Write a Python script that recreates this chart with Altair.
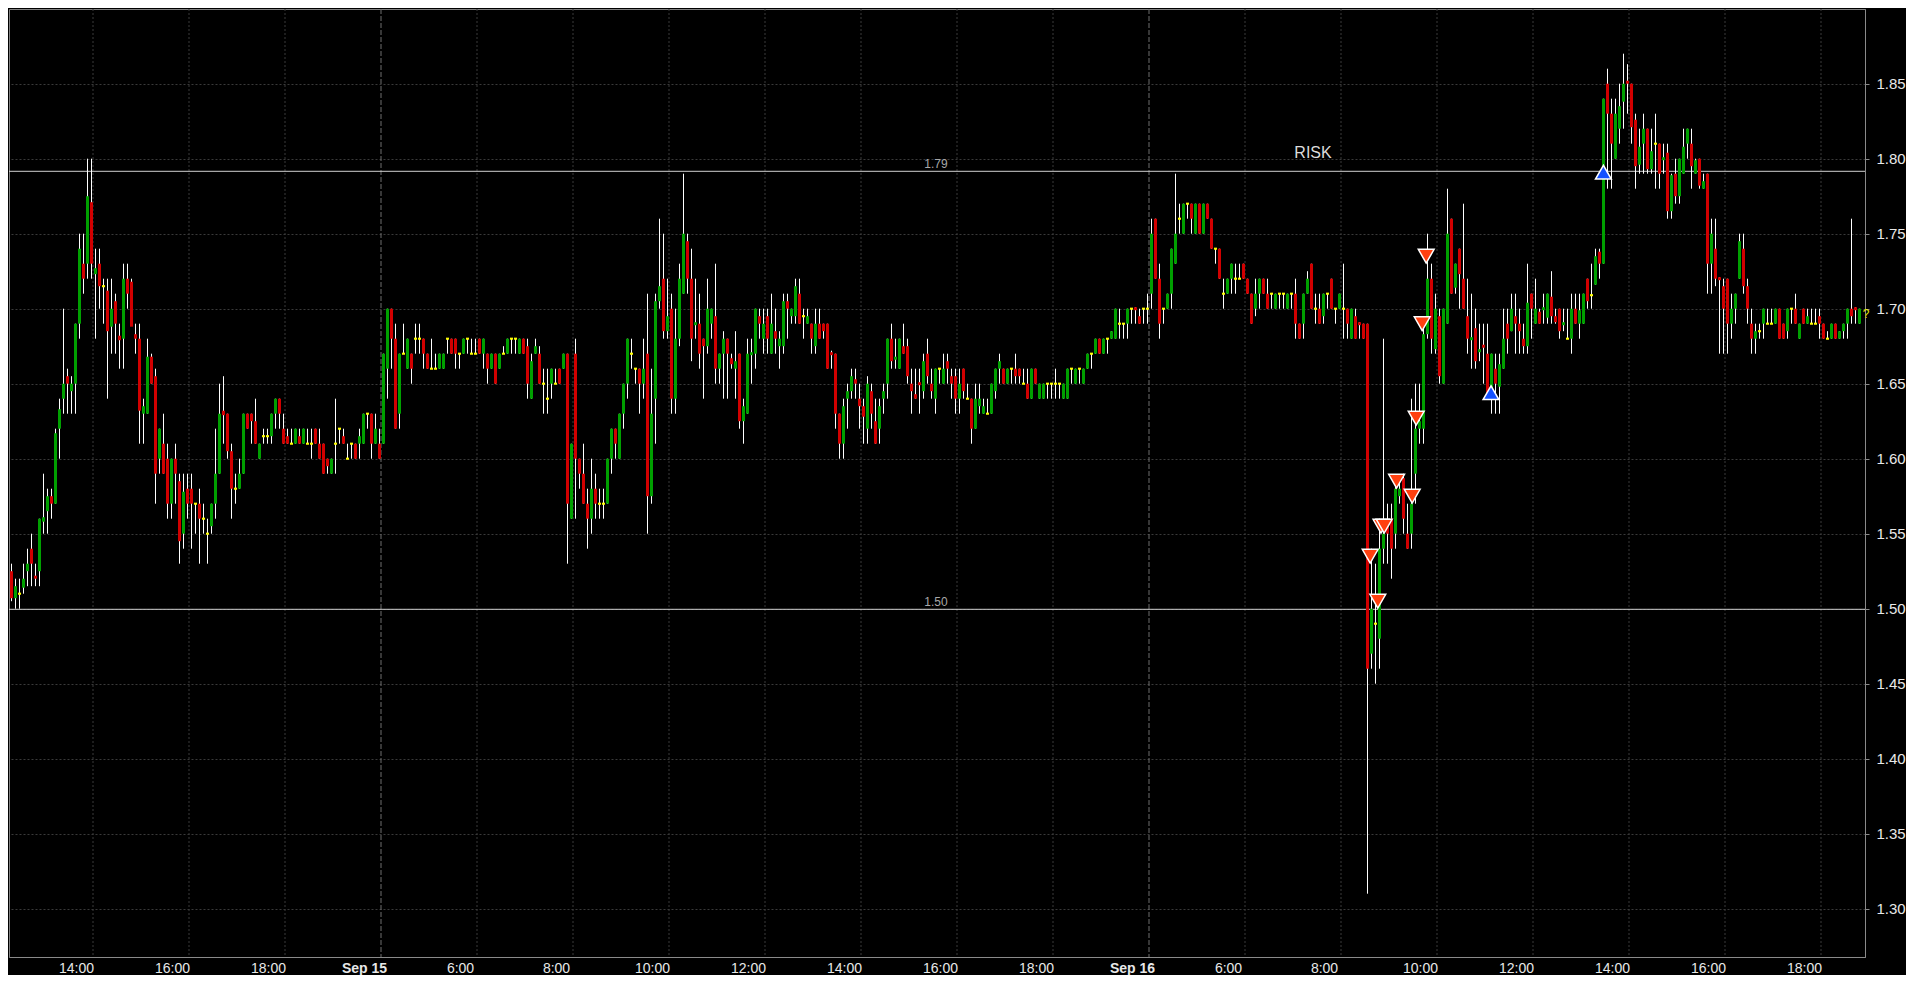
import json
import altair as alt
import pandas as pd

# ---------------- data (5-minute bars) ----------------
# Session 1: Sep 14 afternoon (bars 0-94)
OPEN_1 = [1.535, 1.525, 1.525, 1.507, 1.51, 1.514, 1.525, 1.54, 1.522, 1.525,
          1.558, 1.565, 1.575, 1.57, 1.62, 1.64, 1.655, 1.645, 1.65, 1.69,
          1.73, 1.73, 1.771, 1.723, 1.73, 1.715, 1.712, 1.688, 1.705, 1.682,
          1.68, 1.72, 1.718, 1.683, 1.68, 1.63, 1.63, 1.668, 1.655, 1.60,
          1.61, 1.60, 1.57, 1.60, 1.585, 1.55, 1.58, 1.58, 1.57, 1.57,
          1.56, 1.55, 1.555, 1.57, 1.59, 1.632, 1.63, 1.605, 1.58, 1.58,
          1.59, 1.63, 1.63, 1.625, 1.60, 1.615, 1.615, 1.615, 1.63, 1.64,
          1.62, 1.615, 1.61, 1.61, 1.615, 1.61, 1.61, 1.61, 1.62, 1.61,
          1.61, 1.60, 1.59, 1.61, 1.62, 1.615, 1.60, 1.61, 1.61, 1.61,
          1.61, 1.63, 1.63, 1.61, 1.61]
HIGH_1 = [1.56, 1.53, 1.53, 1.52, 1.52, 1.53, 1.54, 1.55, 1.53, 1.56,
          1.59, 1.58, 1.58, 1.62, 1.64, 1.70, 1.66, 1.655, 1.69, 1.75,
          1.75, 1.80, 1.80, 1.74, 1.74, 1.72, 1.72, 1.72, 1.71, 1.69,
          1.73, 1.73, 1.72, 1.69, 1.69, 1.64, 1.68, 1.67, 1.66, 1.62,
          1.63, 1.61, 1.60, 1.61, 1.59, 1.59, 1.59, 1.59, 1.57, 1.58,
          1.57, 1.56, 1.57, 1.62, 1.65, 1.655, 1.63, 1.61, 1.59, 1.60,
          1.63, 1.63, 1.63, 1.64, 1.61, 1.62, 1.62, 1.63, 1.64, 1.64,
          1.63, 1.62, 1.62, 1.62, 1.62, 1.62, 1.62, 1.62, 1.62, 1.62,
          1.61, 1.60, 1.60, 1.64, 1.62, 1.62, 1.61, 1.61, 1.61, 1.62,
          1.63, 1.63, 1.63, 1.63, 1.62]
LOW_1 = [1.52, 1.505, 1.505, 1.50, 1.50, 1.51, 1.515, 1.515, 1.515, 1.515,
         1.55, 1.55, 1.56, 1.57, 1.60, 1.63, 1.63, 1.63, 1.63, 1.68,
         1.71, 1.72, 1.72, 1.68, 1.70, 1.69, 1.64, 1.67, 1.67, 1.66,
         1.66, 1.70, 1.69, 1.67, 1.61, 1.61, 1.63, 1.65, 1.57, 1.59,
         1.59, 1.56, 1.56, 1.57, 1.53, 1.54, 1.56, 1.54, 1.55, 1.53,
         1.55, 1.53, 1.55, 1.56, 1.59, 1.61, 1.60, 1.56, 1.57, 1.58,
         1.59, 1.62, 1.61, 1.61, 1.60, 1.61, 1.61, 1.61, 1.62, 1.62,
         1.61, 1.61, 1.61, 1.61, 1.61, 1.61, 1.61, 1.60, 1.61, 1.60,
         1.59, 1.59, 1.59, 1.59, 1.61, 1.61, 1.60, 1.60, 1.60, 1.60,
         1.61, 1.62, 1.60, 1.61, 1.60]
CLOSE_1 = [1.53, 1.53, 1.507, 1.515, 1.51, 1.52, 1.53, 1.53, 1.52, 1.56,
           1.561, 1.575, 1.57, 1.617, 1.633, 1.65, 1.65, 1.65, 1.69, 1.74,
           1.72, 1.775, 1.73, 1.727, 1.715, 1.715, 1.685, 1.70, 1.69, 1.679,
           1.72, 1.71, 1.688, 1.68, 1.632, 1.635, 1.668, 1.65, 1.59, 1.62,
           1.59, 1.57, 1.60, 1.59, 1.545, 1.578, 1.57, 1.57, 1.57, 1.56,
           1.56, 1.55, 1.57, 1.59, 1.63, 1.629, 1.605, 1.58, 1.58, 1.59,
           1.63, 1.62, 1.625, 1.61, 1.61, 1.615, 1.615, 1.63, 1.64, 1.63,
           1.61, 1.61, 1.61, 1.62, 1.61, 1.62, 1.61, 1.61, 1.61, 1.60,
           1.59, 1.595, 1.60, 1.61, 1.62, 1.61, 1.60, 1.61, 1.60, 1.615,
           1.63, 1.63, 1.61, 1.62, 1.60]

# Session 2: Sep 15 (bars 95-286)
OPEN_2 = [1.61, 1.66, 1.70, 1.68, 1.63, 1.67, 1.66, 1.67, 1.68, 1.68,
          1.68, 1.67, 1.66, 1.66, 1.66, 1.66, 1.68, 1.68, 1.68, 1.67,
          1.67, 1.68, 1.67, 1.67, 1.68, 1.67, 1.67, 1.66, 1.67, 1.66,
          1.67, 1.67, 1.68, 1.68, 1.67, 1.68, 1.675, 1.64, 1.67, 1.67,
          1.65, 1.64, 1.65, 1.65, 1.66, 1.66, 1.67, 1.56, 1.67, 1.60,
          1.59, 1.57, 1.56, 1.58, 1.57, 1.57, 1.57, 1.60, 1.62, 1.60,
          1.63, 1.65, 1.67, 1.66, 1.66, 1.65, 1.67, 1.575, 1.64, 1.705,
          1.72, 1.685, 1.70, 1.64, 1.68, 1.71, 1.745, 1.72, 1.689, 1.69,
          1.68, 1.675, 1.69, 1.695, 1.66, 1.67, 1.68, 1.667, 1.66, 1.67,
          1.625, 1.63, 1.669, 1.67, 1.695, 1.68, 1.695, 1.67, 1.685, 1.675,
          1.675, 1.705, 1.695, 1.695, 1.71, 1.695, 1.69, 1.69, 1.675, 1.69,
          1.69, 1.69, 1.671, 1.67, 1.63, 1.61, 1.64, 1.645, 1.653, 1.64,
          1.635, 1.62, 1.645, 1.625, 1.62, 1.64, 1.65, 1.68, 1.666, 1.66,
          1.675, 1.675, 1.65, 1.643, 1.651, 1.645, 1.67, 1.65, 1.64, 1.66,
          1.65, 1.665, 1.655, 1.655, 1.64, 1.66, 1.64, 1.64, 1.62, 1.635,
          1.63, 1.63, 1.63, 1.645, 1.66, 1.66, 1.65, 1.66, 1.66, 1.66,
          1.65, 1.65, 1.64, 1.66, 1.64, 1.64, 1.65, 1.65, 1.65, 1.65,
          1.64, 1.64, 1.66, 1.65, 1.66, 1.65, 1.66, 1.67, 1.67, 1.68,
          1.67, 1.68, 1.68, 1.68, 1.69, 1.69, 1.69, 1.70, 1.701, 1.695,
          1.70, 1.70]
HIGH_2 = [1.67, 1.70, 1.70, 1.69, 1.67, 1.69, 1.68, 1.67, 1.69, 1.69,
          1.68, 1.67, 1.68, 1.67, 1.67, 1.67, 1.68, 1.68, 1.68, 1.67,
          1.68, 1.68, 1.68, 1.68, 1.68, 1.68, 1.67, 1.67, 1.67, 1.67,
          1.675, 1.68, 1.68, 1.68, 1.68, 1.68, 1.68, 1.67, 1.68, 1.675,
          1.66, 1.66, 1.66, 1.66, 1.66, 1.67, 1.67, 1.61, 1.68, 1.60,
          1.61, 1.58, 1.60, 1.59, 1.58, 1.58, 1.60, 1.62, 1.62, 1.63,
          1.65, 1.68, 1.68, 1.66, 1.66, 1.68, 1.71, 1.66, 1.71, 1.76,
          1.75, 1.72, 1.71, 1.70, 1.73, 1.79, 1.75, 1.74, 1.72, 1.71,
          1.68, 1.72, 1.70, 1.73, 1.67, 1.685, 1.68, 1.67, 1.685, 1.67,
          1.64, 1.68, 1.68, 1.70, 1.70, 1.70, 1.70, 1.71, 1.70, 1.685,
          1.71, 1.71, 1.70, 1.72, 1.72, 1.70, 1.70, 1.69, 1.70, 1.70,
          1.69, 1.69, 1.672, 1.67, 1.63, 1.64, 1.65, 1.66, 1.66, 1.65,
          1.64, 1.655, 1.65, 1.64, 1.64, 1.65, 1.68, 1.69, 1.68, 1.68,
          1.69, 1.68, 1.66, 1.66, 1.66, 1.67, 1.68, 1.66, 1.66, 1.66,
          1.67, 1.67, 1.66, 1.66, 1.66, 1.66, 1.65, 1.64, 1.65, 1.65,
          1.64, 1.64, 1.65, 1.66, 1.67, 1.66, 1.66, 1.66, 1.67, 1.66,
          1.66, 1.66, 1.66, 1.66, 1.65, 1.65, 1.65, 1.65, 1.66, 1.65,
          1.65, 1.66, 1.66, 1.66, 1.66, 1.66, 1.67, 1.67, 1.68, 1.68,
          1.68, 1.68, 1.685, 1.70, 1.70, 1.69, 1.70, 1.70, 1.701, 1.70,
          1.70, 1.71]
LOW_2 = [1.61, 1.64, 1.66, 1.62, 1.62, 1.67, 1.66, 1.65, 1.67, 1.67,
         1.66, 1.66, 1.66, 1.66, 1.66, 1.66, 1.67, 1.67, 1.66, 1.66,
         1.67, 1.67, 1.67, 1.67, 1.67, 1.66, 1.65, 1.66, 1.65, 1.66,
         1.67, 1.67, 1.67, 1.67, 1.67, 1.67, 1.64, 1.64, 1.67, 1.65,
         1.63, 1.63, 1.64, 1.65, 1.65, 1.66, 1.53, 1.56, 1.56, 1.58,
         1.57, 1.54, 1.55, 1.56, 1.56, 1.56, 1.57, 1.59, 1.60, 1.60,
         1.62, 1.64, 1.66, 1.65, 1.63, 1.64, 1.55, 1.57, 1.61, 1.70,
         1.68, 1.68, 1.63, 1.63, 1.675, 1.71, 1.71, 1.665, 1.68, 1.66,
         1.64, 1.67, 1.68, 1.65, 1.65, 1.64, 1.64, 1.66, 1.64, 1.62,
         1.61, 1.63, 1.65, 1.66, 1.68, 1.67, 1.67, 1.67, 1.67, 1.66,
         1.67, 1.68, 1.69, 1.69, 1.69, 1.68, 1.69, 1.67, 1.67, 1.68,
         1.68, 1.66, 1.66, 1.62, 1.60, 1.60, 1.62, 1.64, 1.64, 1.62,
         1.61, 1.61, 1.62, 1.61, 1.61, 1.63, 1.64, 1.66, 1.66, 1.66,
         1.67, 1.65, 1.63, 1.64, 1.63, 1.64, 1.65, 1.64, 1.63, 1.65,
         1.65, 1.65, 1.64, 1.63, 1.63, 1.64, 1.64, 1.61, 1.62, 1.63,
         1.63, 1.63, 1.63, 1.64, 1.65, 1.65, 1.65, 1.65, 1.65, 1.65,
         1.65, 1.64, 1.64, 1.65, 1.64, 1.64, 1.64, 1.64, 1.64, 1.64,
         1.64, 1.64, 1.65, 1.65, 1.65, 1.65, 1.66, 1.66, 1.67, 1.67,
         1.67, 1.67, 1.68, 1.68, 1.68, 1.68, 1.68, 1.69, 1.69, 1.69,
         1.69, 1.69]
CLOSE_2 = [1.67, 1.70, 1.68, 1.62, 1.67, 1.67, 1.68, 1.66, 1.68, 1.68,
           1.67, 1.66, 1.66, 1.66, 1.67, 1.67, 1.68, 1.67, 1.67, 1.67,
           1.68, 1.68, 1.67, 1.67, 1.67, 1.68, 1.66, 1.67, 1.65, 1.67,
           1.67, 1.68, 1.68, 1.68, 1.68, 1.67, 1.65, 1.665, 1.675, 1.65,
           1.65, 1.64, 1.66, 1.65, 1.65, 1.67, 1.57, 1.61, 1.60, 1.59,
           1.57, 1.56, 1.58, 1.57, 1.57, 1.57, 1.60, 1.62, 1.61, 1.63,
           1.65, 1.68, 1.67, 1.66, 1.65, 1.66, 1.575, 1.63, 1.705, 1.715,
           1.685, 1.695, 1.64, 1.68, 1.72, 1.75, 1.72, 1.68, 1.691, 1.67,
           1.675, 1.70, 1.70, 1.66, 1.67, 1.68, 1.67, 1.663, 1.665, 1.625,
           1.635, 1.67, 1.671, 1.70, 1.69, 1.69, 1.68, 1.69, 1.68, 1.68,
           1.705, 1.70, 1.70, 1.715, 1.69, 1.695, 1.695, 1.68, 1.69, 1.68,
           1.685, 1.66, 1.669, 1.63, 1.61, 1.635, 1.645, 1.655, 1.65, 1.635,
           1.628, 1.65, 1.63, 1.61, 1.635, 1.645, 1.68, 1.665, 1.668, 1.68,
           1.67, 1.655, 1.645, 1.64, 1.649, 1.665, 1.655, 1.645, 1.66, 1.66,
           1.66, 1.66, 1.65, 1.64, 1.65, 1.645, 1.64, 1.62, 1.64, 1.64,
           1.635, 1.63, 1.65, 1.66, 1.665, 1.65, 1.66, 1.66, 1.655, 1.655,
           1.65, 1.64, 1.66, 1.65, 1.65, 1.65, 1.65, 1.65, 1.65, 1.65,
           1.65, 1.66, 1.66, 1.66, 1.66, 1.66, 1.67, 1.67, 1.68, 1.67,
           1.68, 1.68, 1.685, 1.70, 1.69, 1.69, 1.70, 1.70, 1.699, 1.69,
           1.70, 1.70]

# Session 3: Sep 16 (bars 287-464)
OPEN_3 = [1.71, 1.76, 1.72, 1.70, 1.70, 1.71, 1.73, 1.76, 1.75, 1.77,
          1.77, 1.75, 1.77, 1.75, 1.77, 1.76, 1.74, 1.74, 1.71, 1.71,
          1.72, 1.72, 1.72, 1.73, 1.72, 1.71, 1.70, 1.71, 1.72, 1.71,
          1.71, 1.70, 1.71, 1.71, 1.70, 1.71, 1.71, 1.69, 1.69, 1.71,
          1.73, 1.70, 1.70, 1.695, 1.71, 1.72, 1.70, 1.70, 1.70, 1.70,
          1.68, 1.695, 1.691, 1.69, 1.69, 1.47, 1.49, 1.48, 1.54, 1.555,
          1.56, 1.55, 1.575, 1.587, 1.55, 1.55, 1.59, 1.62, 1.62, 1.683,
          1.72, 1.673, 1.695, 1.65, 1.69, 1.76, 1.714, 1.74, 1.72, 1.695,
          1.679, 1.687, 1.671, 1.676, 1.67, 1.643, 1.66, 1.648, 1.66, 1.69,
          1.685, 1.695, 1.69, 1.68, 1.675, 1.71, 1.69, 1.698, 1.699, 1.694,
          1.708, 1.695, 1.70, 1.689, 1.68, 1.68, 1.70, 1.69, 1.69, 1.72,
          1.709, 1.716, 1.738, 1.73, 1.85, 1.83, 1.80, 1.82, 1.838, 1.852,
          1.85, 1.826, 1.796, 1.81, 1.82, 1.793, 1.81, 1.81, 1.799, 1.804,
          1.765, 1.79, 1.775, 1.79, 1.81, 1.81, 1.79, 1.80, 1.78, 1.79,
          1.73, 1.74, 1.721, 1.715, 1.72, 1.69, 1.70, 1.72, 1.74, 1.715,
          1.69, 1.68, 1.685, 1.69, 1.69, 1.69, 1.69, 1.70, 1.69, 1.685,
          1.70, 1.70, 1.68, 1.70, 1.69, 1.69, 1.69, 1.695, 1.69, 1.68,
          1.68, 1.69, 1.68, 1.685, 1.69, 1.70, 1.701, 1.69]
HIGH_3 = [1.76, 1.76, 1.73, 1.70, 1.71, 1.74, 1.79, 1.77, 1.77, 1.77,
          1.77, 1.77, 1.77, 1.77, 1.77, 1.76, 1.74, 1.74, 1.72, 1.72,
          1.73, 1.73, 1.73, 1.73, 1.72, 1.71, 1.72, 1.72, 1.72, 1.72,
          1.71, 1.71, 1.71, 1.71, 1.71, 1.71, 1.72, 1.69, 1.71, 1.725,
          1.73, 1.71, 1.71, 1.71, 1.71, 1.72, 1.70, 1.71, 1.73, 1.70,
          1.70, 1.70, 1.691, 1.69, 1.69, 1.54, 1.53, 1.56, 1.68, 1.57,
          1.57, 1.585, 1.585, 1.59, 1.57, 1.64, 1.65, 1.65, 1.69, 1.75,
          1.73, 1.71, 1.70, 1.70, 1.78, 1.76, 1.73, 1.74, 1.77, 1.72,
          1.71, 1.70, 1.69, 1.69, 1.69, 1.67, 1.67, 1.67, 1.70, 1.70,
          1.71, 1.71, 1.70, 1.69, 1.73, 1.71, 1.72, 1.70, 1.71, 1.71,
          1.725, 1.70, 1.70, 1.70, 1.70, 1.71, 1.71, 1.71, 1.71, 1.72,
          1.73, 1.74, 1.74, 1.84, 1.86, 1.84, 1.84, 1.85, 1.87, 1.863,
          1.85, 1.83, 1.82, 1.83, 1.82, 1.82, 1.83, 1.81, 1.81, 1.81,
          1.79, 1.80, 1.80, 1.82, 1.82, 1.82, 1.80, 1.80, 1.79, 1.79,
          1.76, 1.76, 1.721, 1.72, 1.72, 1.71, 1.71, 1.75, 1.75, 1.72,
          1.70, 1.69, 1.69, 1.70, 1.70, 1.70, 1.70, 1.70, 1.69, 1.70,
          1.70, 1.71, 1.69, 1.70, 1.70, 1.70, 1.70, 1.70, 1.69, 1.685,
          1.69, 1.69, 1.685, 1.69, 1.70, 1.76, 1.701, 1.70]
LOW_3 = [1.70, 1.72, 1.68, 1.69, 1.70, 1.70, 1.73, 1.75, 1.75, 1.76,
         1.75, 1.75, 1.75, 1.75, 1.76, 1.74, 1.73, 1.72, 1.70, 1.71,
         1.71, 1.71, 1.72, 1.72, 1.71, 1.69, 1.695, 1.70, 1.71, 1.70,
         1.70, 1.70, 1.70, 1.70, 1.70, 1.70, 1.68, 1.68, 1.68, 1.71,
         1.70, 1.69, 1.69, 1.69, 1.70, 1.70, 1.69, 1.70, 1.68, 1.68,
         1.68, 1.68, 1.68, 1.68, 1.31, 1.46, 1.45, 1.46, 1.53, 1.53,
         1.52, 1.54, 1.57, 1.55, 1.54, 1.54, 1.57, 1.61, 1.61, 1.68,
         1.67, 1.67, 1.65, 1.65, 1.69, 1.71, 1.71, 1.70, 1.70, 1.67,
         1.66, 1.66, 1.665, 1.65, 1.64, 1.63, 1.63, 1.63, 1.66, 1.67,
         1.685, 1.67, 1.67, 1.67, 1.67, 1.68, 1.69, 1.69, 1.69, 1.69,
         1.69, 1.69, 1.68, 1.685, 1.68, 1.67, 1.69, 1.68, 1.69, 1.70,
         1.70, 1.716, 1.72, 1.73, 1.78, 1.78, 1.80, 1.81, 1.82, 1.83,
         1.81, 1.78, 1.79, 1.79, 1.79, 1.79, 1.78, 1.78, 1.79, 1.76,
         1.76, 1.77, 1.77, 1.79, 1.80, 1.78, 1.79, 1.78, 1.78, 1.71,
         1.71, 1.715, 1.67, 1.67, 1.67, 1.68, 1.69, 1.72, 1.71, 1.69,
         1.67, 1.67, 1.68, 1.68, 1.69, 1.69, 1.69, 1.68, 1.68, 1.68,
         1.69, 1.69, 1.68, 1.69, 1.69, 1.69, 1.69, 1.68, 1.68, 1.68,
         1.68, 1.68, 1.68, 1.68, 1.68, 1.69, 1.69, 1.69]
CLOSE_3 = [1.75, 1.72, 1.69, 1.70, 1.71, 1.74, 1.75, 1.76, 1.77, 1.77,
           1.76, 1.77, 1.75, 1.77, 1.76, 1.74, 1.74, 1.72, 1.71, 1.72,
           1.73, 1.72, 1.72, 1.72, 1.71, 1.69, 1.71, 1.72, 1.71, 1.70,
           1.71, 1.71, 1.71, 1.71, 1.71, 1.71, 1.69, 1.68, 1.71, 1.72,
           1.70, 1.70, 1.69, 1.71, 1.71, 1.70, 1.70, 1.71, 1.70, 1.69,
           1.70, 1.68, 1.689, 1.68, 1.46, 1.50, 1.49, 1.54, 1.55, 1.55,
           1.54, 1.58, 1.58, 1.56, 1.54, 1.57, 1.62, 1.625, 1.683, 1.72,
           1.68, 1.70, 1.655, 1.70, 1.75, 1.71, 1.73, 1.723, 1.70, 1.68,
           1.681, 1.665, 1.673, 1.674, 1.64, 1.67, 1.65, 1.663, 1.68, 1.68,
           1.70, 1.69, 1.685, 1.675, 1.704, 1.70, 1.70, 1.69, 1.701, 1.71,
           1.695, 1.691, 1.685, 1.691, 1.68, 1.70, 1.69, 1.699, 1.71, 1.705,
           1.709, 1.735, 1.73, 1.84, 1.83, 1.81, 1.83, 1.835, 1.85, 1.85,
           1.821, 1.795, 1.808, 1.82, 1.793, 1.805, 1.81, 1.79, 1.801, 1.765,
           1.789, 1.775, 1.80, 1.808, 1.82, 1.795, 1.799, 1.782, 1.785, 1.73,
           1.75, 1.72, 1.719, 1.70, 1.69, 1.70, 1.71, 1.745, 1.715, 1.70,
           1.68, 1.685, 1.685, 1.70, 1.69, 1.69, 1.70, 1.68, 1.68, 1.70,
           1.70, 1.69, 1.69, 1.69, 1.695, 1.69, 1.69, 1.69, 1.68, 1.68,
           1.69, 1.68, 1.685, 1.69, 1.70, 1.695, 1.699, 1.70]

# time axis: bar positions of the gridlines, and where their labels sit
TICK_POS = [23, 47, 71, 95, 119, 143, 167, 191, 215, 239, 263,
            287, 311, 335, 359, 383, 407, 431, 455]
LABEL_POS = [18.75, 42.75, 66.75, 90.75, 114.75, 138.75, 162.75, 186.75,
             210.75, 234.75, 258.75, 282.75, 306.75, 330.75, 354.75, 378.75,
             402.75, 426.75, 450.75]
TICK_LABELS = ["14:00", "16:00", "18:00", "Sep 15", "6:00", "8:00", "10:00",
               "12:00", "14:00", "16:00", "18:00", "Sep 16", "6:00", "8:00",
               "10:00", "12:00", "14:00", "16:00", "18:00"]
DAY_STARTS = [95, 287]
DAY_LABEL_POS = [90.75, 282.75]
Y_TICKS = [1.30, 1.35, 1.40, 1.45, 1.50, 1.55, 1.60, 1.65, 1.70, 1.75, 1.80, 1.85]

# horizontal levels
LEVELS = [1.7916, 1.4996]
LEVEL_LABELS = ["1.79", "1.50"]
LEVEL_LABEL_X = 233.75

# signal markers
SELL_X = [342.3, 344.2, 345.0, 345.8, 348.9, 352.8, 353.8, 355.3, 356.3]
SELL_Y = [1.535, 1.505, 1.555, 1.555, 1.585, 1.575, 1.627, 1.69, 1.735]
BUY_X = [372.5, 400.6]
BUY_Y = [1.644, 1.791]

TITLE_TEXT = "RISK"
TITLE_X, TITLE_Y = 328.0, 1.8005
LAST_MARK = "?"
LAST_X, LAST_Y = 466.3, 1.6965

# ---------------- build table ----------------
OPEN = OPEN_1 + OPEN_2 + OPEN_3
HIGH = HIGH_1 + HIGH_2 + HIGH_3
LOW = LOW_1 + LOW_2 + LOW_3
CLOSE = CLOSE_1 + CLOSE_2 + CLOSE_3
n = len(OPEN)
assert len(HIGH) == n and len(LOW) == n and len(CLOSE) == n, (len(OPEN), len(HIGH), len(LOW), len(CLOSE))

rows = []
for i, (o, h, l, c) in enumerate(zip(OPEN, HIGH, LOW, CLOSE)):
    kind = "up" if c > o else ("down" if c < o else "flat")
    rows.append(dict(i=i, o=o, h=h, l=l, c=c, kind=kind,
                     xb=i + 0.25, xe=i + 1.0, xw=i + 0.625,
                     dt=c + 0.0007, db=c - 0.0007))
bars = pd.DataFrame(rows)

GREEN = "#00A000"
RED = "#D20000"
YELLOW = "#FFFF00"

xscale = alt.Scale(domain=[2, 466], nice=False, zero=False)
yscale = alt.Scale(domain=[1.2678, 1.8998], nice=False, zero=False)

pos_js = json.dumps(LABEL_POS)
lab_js = json.dumps(TICK_LABELS)
bold_test = " || ".join(f"datum.value == {d}" for d in DAY_LABEL_POS)

xaxis = alt.Axis(values=LABEL_POS, labelExpr=f"{lab_js}[indexof({pos_js}, datum.value)]",
                 title=None, grid=False, ticks=False, domainColor="#8a8a8a",
                 labelColor="#E8E8E8", labelFont="Liberation Sans", labelFontSize=14,
                 labelPadding=4, labelOverlap=False, labelFlush=False,
                 labelFontWeight={"condition": {"test": bold_test, "value": "bold"},
                                  "value": "normal"})
yaxis = alt.Axis(values=Y_TICKS, format=".2f", orient="right", title=None,
                 grid=True, gridColor="#3a3a3a", gridDash=[2, 2],
                 tickColor="#8a8a8a", tickSize=4, domainColor="#8a8a8a",
                 labelColor="#E8E8E8", labelFont="Liberation Sans",
                 labelFontSize=15, labelPadding=7)


def X(f):
    return alt.X(f, type="quantitative", scale=xscale, axis=xaxis)


def Y(f):
    return alt.Y(f, type="quantitative", scale=yscale, axis=yaxis)


base = alt.Chart(bars)

wicks = base.mark_rule(color="#FFFFFF", strokeWidth=1, clip=True).encode(
    x=X("xw"), y=Y("l"), y2="h")

bodies = base.transform_filter("datum.kind != 'flat'").mark_rect(clip=True, strokeWidth=0).encode(
    x=X("xb"), x2="xe", y=Y("o"), y2="c",
    color=alt.Color("kind:N", scale=alt.Scale(domain=["up", "down"], range=[GREEN, RED]), legend=None))

dojis = base.transform_filter("datum.kind == 'flat'").mark_rect(clip=True, color=YELLOW, strokeWidth=0).encode(
    x=X("xb"), x2="xe", y=Y("dt"), y2="db")

grid_df = pd.DataFrame({"g": TICK_POS})
xgrid = alt.Chart(grid_df).transform_filter(
    " && ".join(f"datum.g != {d}" for d in DAY_STARTS)).mark_rule(
    color="#3a3a3a", strokeWidth=1, strokeDash=[2, 2]).encode(x=X("g"))

days = alt.Chart(pd.DataFrame({"d": DAY_STARTS})).mark_rule(
    color="#6e6e6e", strokeWidth=1, strokeDash=[5, 2]).encode(x=X("d"))

lev_df = pd.DataFrame({"lv": LEVELS, "lab": LEVEL_LABELS, "lx": [LEVEL_LABEL_X] * len(LEVELS)})
levels = alt.Chart(lev_df).mark_rule(color="#D0D0D0", strokeWidth=1).encode(y=Y("lv"))
lev_text = alt.Chart(lev_df).mark_text(color="#A8A8A8", font="Liberation Sans", fontSize=12,
                                       baseline="alphabetic", align="center", dy=-3).encode(
    x=X("lx"), y=Y("lv"), text="lab:N")

sell = alt.Chart(pd.DataFrame({"sx": SELL_X, "sy": SELL_Y})).mark_point(
    shape="triangle-down", filled=True, fill="#FF4010", stroke="#FFFFFF", strokeWidth=1.5,
    size=250, opacity=1).encode(x=X("sx"), y=Y("sy"))
buy = alt.Chart(pd.DataFrame({"bx": BUY_X, "by": BUY_Y})).mark_point(
    shape="triangle-up", filled=True, fill="#1450FF", stroke="#FFFFFF", strokeWidth=1.5,
    size=250, opacity=1).encode(x=X("bx"), y=Y("by"))

title = alt.Chart(pd.DataFrame({"tx": [TITLE_X], "ty": [TITLE_Y], "t": [TITLE_TEXT]})).mark_text(
    color="#DCDCDC", font="Liberation Sans", fontSize=16, baseline="alphabetic", align="center").encode(
    x=X("tx"), y=Y("ty"), text="t:N")

last = alt.Chart(pd.DataFrame({"qx": [LAST_X], "qy": [LAST_Y], "q": [LAST_MARK]})).mark_text(
    color="#E8E800", font="Liberation Sans", fontSize=12, baseline="middle", align="center").encode(
    x=X("qx"), y=Y("qy"), text="q:N")

chart = alt.layer(xgrid, days, levels, lev_text, wicks, bodies, dojis, sell, buy, title, last).properties(
    width=1856, height=948, padding=0, background="#000000"
).configure_view(stroke="#808080", strokeWidth=1).configure_axis(labelLimit=0)

chart.save("out.html", embed_options={"renderer": "svg", "actions": False})
